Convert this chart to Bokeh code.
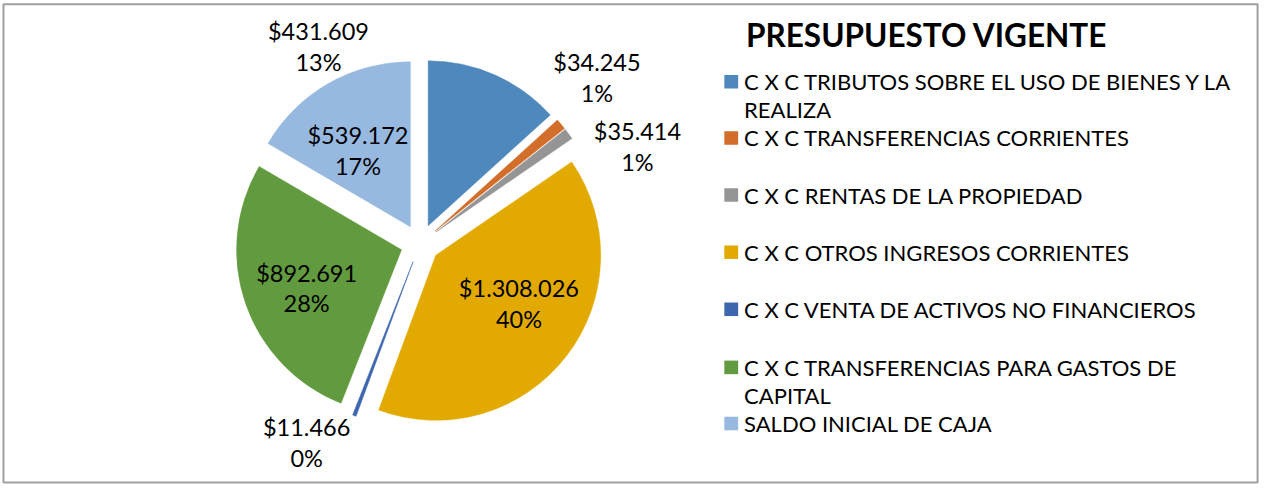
import math
from bokeh.plotting import figure
from bokeh.models import Range1d
from bokeh.core.properties import value
from bokeh.embed import file_html
from bokeh.resources import INLINE

# ---- data ----
categories = [
    "C X C TRIBUTOS SOBRE EL USO DE BIENES Y LA REALIZA",
    "C X C TRANSFERENCIAS CORRIENTES",
    "C X C RENTAS DE LA PROPIEDAD",
    "C X C OTROS INGRESOS CORRIENTES",
    "C X C VENTA DE ACTIVOS NO FINANCIEROS",
    "C X C TRANSFERENCIAS PARA GASTOS DE CAPITAL",
    "SALDO INICIAL DE CAJA",
]
values = [431609, 34245, 35414, 1308026, 11466, 892691, 539172]
value_labels = ["$431.609", "$34.245", "$35.414", "$1.308.026", "$11.466", "$892.691", "$539.172"]
pct_labels = ["13%", "1%", "1%", "40%", "0%", "28%", "17%"]
legend_lines = [
    ["C X C TRIBUTOS SOBRE EL USO DE BIENES Y LA", "REALIZA"],
    ["C X C TRANSFERENCIAS CORRIENTES"],
    ["C X C RENTAS DE LA PROPIEDAD"],
    ["C X C OTROS INGRESOS CORRIENTES"],
    ["C X C VENTA DE ACTIVOS NO FINANCIEROS"],
    ["C X C TRANSFERENCIAS PARA GASTOS DE", "CAPITAL"],
    ["SALDO INICIAL DE CAJA"],
]
title = "PRESUPUESTO VIGENTE"

# ---- style / layout (coordinates in a 1279x500 canvas space) ----
colors = ["#4F88BC", "#D36E2A", "#959595", "#E2AA00", "#3D66AE", "#629A3F", "#98B9DF"]
CX, CY = 425.0, 251.0
R = 167.0
EXPLODE = 20.0
label_pos = [(322, 48), (604, 80), (645, 151), (525, 313), (310, 457), (310, 297), (362, 155)]
LINE_GAP = 16
legend_y = [84, 142, 201, 260, 319, 379, 437]
legend_line_h = 29
FONT = value("Lato")

W, H = 1263, 484
p = figure(width=W, height=H, output_backend="svg", toolbar_location=None,
           x_range=Range1d(0, 1279), y_range=Range1d(-500, 0),
           min_border=0, match_aspect=False)
p.axis.visible = False
p.grid.visible = False
p.outline_line_color = None
p.background_fill_color = "white"
p.border_fill_color = "white"

# chart-area border
p.quad(left=[3], right=[1273], top=[-4], bottom=[-498], fill_color=None,
       line_color="#a0a0a0", line_width=2)

total = float(sum(values))
cum = 0.0
for i, v in enumerate(values):
    a0 = cum / total * 2 * math.pi
    cum += v
    a1 = cum / total * 2 * math.pi
    mid = (a0 + a1) / 2
    cx = CX + EXPLODE * math.sin(mid)
    cy = CY - EXPLODE * math.cos(mid)
    p.wedge(x=[cx], y=[-cy], radius=R, radius_units="data",
            start_angle=math.pi / 2 - a1, end_angle=math.pi / 2 - a0,
            fill_color=colors[i], line_color=colors[i], line_width=0.5)

# data labels
for i in range(len(values)):
    lx, ly = label_pos[i]
    p.text(x=[lx], y=[-(ly - LINE_GAP)], text=[value_labels[i]], text_font=FONT,
           text_font_size="23.5px", text_align="center", text_baseline="middle",
           text_color="#000000")
    p.text(x=[lx], y=[-(ly + LINE_GAP)], text=[pct_labels[i]], text_font=FONT,
           text_font_size="23.5px", text_align="center", text_baseline="middle",
           text_color="#000000")

# title
p.text(x=[938], y=[-36], text=[title], text_font=FONT, text_font_style="bold",
       text_font_size="31.5px", text_align="center", text_baseline="middle",
       text_color="#000000")

# legend
for i, lines in enumerate(legend_lines):
    y0 = legend_y[i]
    p.rect(x=[740], y=[-y0], width=14, height=14, fill_color=colors[i], line_color=None)
    for j, t in enumerate(lines):
        p.text(x=[753], y=[-(y0 + j * legend_line_h)], text=[t], text_font=FONT,
               text_font_size="22px", text_align="left", text_baseline="middle",
               text_color="#000000")

open("out.html", "w").write(file_html(p, INLINE))
